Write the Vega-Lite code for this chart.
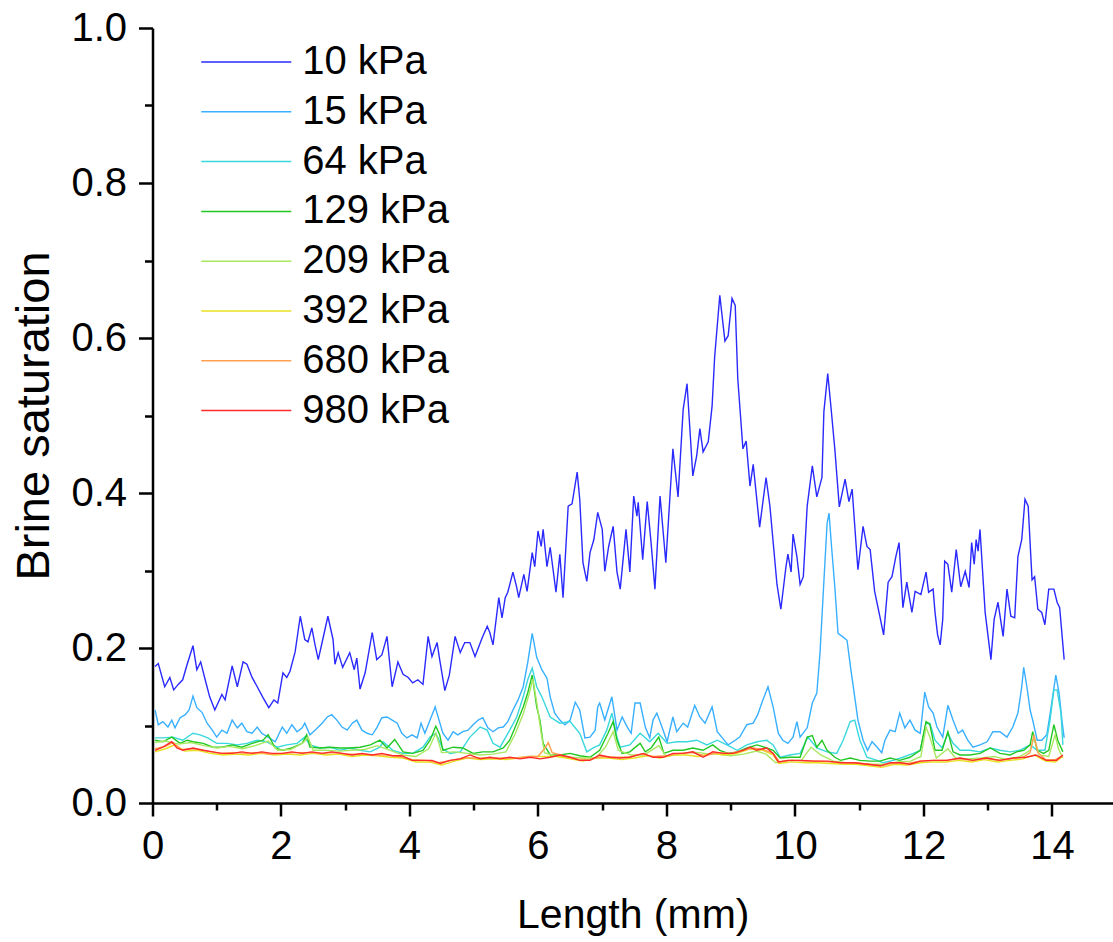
{
"$schema": "https://vega.github.io/schema/vega-lite/v6.json",
"autosize": {"type": "none"},
"padding": {"left": 152.5, "top": 28, "right": 0, "bottom": 139},
"width": 960.5,
"height": 775,
"background": "white",
"config": {"view": {"stroke": null}, "font": "Liberation Sans"},
"datasets": {
"d10": [
{"x":0.04,"y":0.176},{"x":0.09,"y":0.180},{"x":0.19,"y":0.150},{"x":0.27,"y":0.162},{"x":0.33,"y":0.146},{"x":0.40,"y":0.153},{"x":0.47,"y":0.159},{"x":0.54,"y":0.179},{"x":0.63,"y":0.203},{"x":0.69,"y":0.172},{"x":0.75,"y":0.182},{"x":0.82,"y":0.159},{"x":0.89,"y":0.137},{"x":0.97,"y":0.120},{"x":1.08,"y":0.140},{"x":1.13,"y":0.133},{"x":1.24,"y":0.177},{"x":1.32,"y":0.150},{"x":1.41,"y":0.182},{"x":1.47,"y":0.179},{"x":1.55,"y":0.162},{"x":1.63,"y":0.150},{"x":1.72,"y":0.136},{"x":1.81,"y":0.123},{"x":1.89,"y":0.133},{"x":1.95,"y":0.129},{"x":2.03,"y":0.168},{"x":2.09,"y":0.162},{"x":2.14,"y":0.170},{"x":2.22,"y":0.195},{"x":2.30,"y":0.241},{"x":2.37,"y":0.211},{"x":2.42,"y":0.208},{"x":2.48,"y":0.226},{"x":2.53,"y":0.204},{"x":2.58,"y":0.185},{"x":2.65,"y":0.211},{"x":2.73,"y":0.241},{"x":2.81,"y":0.211},{"x":2.84,"y":0.179},{"x":2.89,"y":0.194},{"x":2.96,"y":0.175},{"x":3.07,"y":0.194},{"x":3.14,"y":0.172},{"x":3.18,"y":0.187},{"x":3.23,"y":0.147},{"x":3.31,"y":0.168},{"x":3.42,"y":0.220},{"x":3.49,"y":0.185},{"x":3.57,"y":0.191},{"x":3.65,"y":0.215},{"x":3.73,"y":0.150},{"x":3.82,"y":0.182},{"x":3.90,"y":0.166},{"x":3.98,"y":0.162},{"x":4.05,"y":0.155},{"x":4.13,"y":0.159},{"x":4.21,"y":0.153},{"x":4.29,"y":0.215},{"x":4.35,"y":0.189},{"x":4.43,"y":0.207},{"x":4.47,"y":0.185},{"x":4.55,"y":0.145},{"x":4.62,"y":0.165},{"x":4.71,"y":0.215},{"x":4.79,"y":0.194},{"x":4.86,"y":0.207},{"x":4.94,"y":0.207},{"x":5.02,"y":0.189},{"x":5.13,"y":0.213},{"x":5.21,"y":0.228},{"x":5.25,"y":0.220},{"x":5.30,"y":0.204},{"x":5.39,"y":0.265},{"x":5.44,"y":0.239},{"x":5.49,"y":0.265},{"x":5.53,"y":0.272},{"x":5.61,"y":0.298},{"x":5.67,"y":0.278},{"x":5.70,"y":0.265},{"x":5.78,"y":0.295},{"x":5.83,"y":0.273},{"x":5.91,"y":0.323},{"x":5.95,"y":0.305},{"x":6.00,"y":0.351},{"x":6.05,"y":0.331},{"x":6.08,"y":0.353},{"x":6.14,"y":0.305},{"x":6.19,"y":0.330},{"x":6.28,"y":0.272},{"x":6.34,"y":0.321},{"x":6.39,"y":0.265},{"x":6.47,"y":0.383},{"x":6.53,"y":0.386},{"x":6.61,"y":0.427},{"x":6.65,"y":0.392},{"x":6.70,"y":0.310},{"x":6.76,"y":0.286},{"x":6.81,"y":0.323},{"x":6.87,"y":0.340},{"x":6.93,"y":0.375},{"x":7.00,"y":0.353},{"x":7.04,"y":0.299},{"x":7.10,"y":0.331},{"x":7.17,"y":0.357},{"x":7.23,"y":0.298},{"x":7.28,"y":0.276},{"x":7.37,"y":0.353},{"x":7.43,"y":0.298},{"x":7.49,"y":0.396},{"x":7.54,"y":0.370},{"x":7.56,"y":0.388},{"x":7.63,"y":0.314},{"x":7.70,"y":0.389},{"x":7.76,"y":0.336},{"x":7.82,"y":0.276},{"x":7.90,"y":0.396},{"x":7.99,"y":0.310},{"x":8.10,"y":0.457},{"x":8.18,"y":0.395},{"x":8.26,"y":0.508},{"x":8.32,"y":0.541},{"x":8.41,"y":0.422},{"x":8.47,"y":0.448},{"x":8.52,"y":0.483},{"x":8.57,"y":0.453},{"x":8.65,"y":0.466},{"x":8.71,"y":0.512},{"x":8.75,"y":0.576},{"x":8.83,"y":0.655},{"x":8.91,"y":0.596},{"x":8.96,"y":0.603},{"x":9.02,"y":0.651},{"x":9.07,"y":0.642},{"x":9.11,"y":0.547},{"x":9.19,"y":0.457},{"x":9.24,"y":0.467},{"x":9.30,"y":0.409},{"x":9.35,"y":0.437},{"x":9.45,"y":0.356},{"x":9.55,"y":0.420},{"x":9.61,"y":0.383},{"x":9.72,"y":0.282},{"x":9.78,"y":0.250},{"x":9.86,"y":0.305},{"x":9.89,"y":0.321},{"x":9.94,"y":0.298},{"x":9.97,"y":0.347},{"x":10.03,"y":0.318},{"x":10.08,"y":0.282},{"x":10.13,"y":0.292},{"x":10.19,"y":0.383},{"x":10.27,"y":0.435},{"x":10.34,"y":0.395},{"x":10.42,"y":0.420},{"x":10.45,"y":0.505},{"x":10.51,"y":0.554},{"x":10.56,"y":0.511},{"x":10.62,"y":0.457},{"x":10.69,"y":0.382},{"x":10.78,"y":0.418},{"x":10.84,"y":0.389},{"x":10.89,"y":0.405},{"x":10.96,"y":0.323},{"x":10.98,"y":0.301},{"x":11.06,"y":0.357},{"x":11.12,"y":0.331},{"x":11.17,"y":0.327},{"x":11.24,"y":0.273},{"x":11.32,"y":0.241},{"x":11.38,"y":0.217},{"x":11.45,"y":0.285},{"x":11.51,"y":0.292},{"x":11.57,"y":0.318},{"x":11.62,"y":0.336},{"x":11.68,"y":0.252},{"x":11.74,"y":0.285},{"x":11.82,"y":0.246},{"x":11.87,"y":0.273},{"x":11.96,"y":0.269},{"x":12.04,"y":0.298},{"x":12.08,"y":0.272},{"x":12.15,"y":0.276},{"x":12.18,"y":0.246},{"x":12.22,"y":0.217},{"x":12.26,"y":0.204},{"x":12.30,"y":0.237},{"x":12.33,"y":0.312},{"x":12.38,"y":0.308},{"x":12.44,"y":0.272},{"x":12.51,"y":0.327},{"x":12.58,"y":0.279},{"x":12.65,"y":0.299},{"x":12.71,"y":0.278},{"x":12.75,"y":0.336},{"x":12.79,"y":0.308},{"x":12.82,"y":0.340},{"x":12.85,"y":0.325},{"x":12.88,"y":0.353},{"x":12.96,"y":0.246},{"x":13.05,"y":0.185},{"x":13.10,"y":0.237},{"x":13.16,"y":0.259},{"x":13.24,"y":0.215},{"x":13.30,"y":0.276},{"x":13.36,"y":0.241},{"x":13.42,"y":0.239},{"x":13.47,"y":0.318},{"x":13.53,"y":0.340},{"x":13.58,"y":0.392},{"x":13.63,"y":0.383},{"x":13.69,"y":0.288},{"x":13.73,"y":0.292},{"x":13.78,"y":0.250},{"x":13.84,"y":0.246},{"x":13.89,"y":0.230},{"x":13.95,"y":0.276},{"x":14.03,"y":0.276},{"x":14.08,"y":0.259},{"x":14.12,"y":0.252},{"x":14.19,"y":0.185}
],
"d15": [
{"x":0.04,"y":0.120},{"x":0.09,"y":0.101},{"x":0.16,"y":0.105},{"x":0.24,"y":0.098},{"x":0.30,"y":0.107},{"x":0.35,"y":0.097},{"x":0.43,"y":0.110},{"x":0.51,"y":0.114},{"x":0.57,"y":0.120},{"x":0.63,"y":0.138},{"x":0.69,"y":0.123},{"x":0.77,"y":0.117},{"x":0.85,"y":0.103},{"x":0.93,"y":0.094},{"x":1.00,"y":0.085},{"x":1.08,"y":0.094},{"x":1.16,"y":0.090},{"x":1.24,"y":0.107},{"x":1.32,"y":0.097},{"x":1.39,"y":0.103},{"x":1.47,"y":0.092},{"x":1.55,"y":0.090},{"x":1.63,"y":0.098},{"x":1.70,"y":0.090},{"x":1.80,"y":0.085},{"x":1.91,"y":0.079},{"x":2.02,"y":0.098},{"x":2.09,"y":0.090},{"x":2.17,"y":0.101},{"x":2.25,"y":0.092},{"x":2.33,"y":0.097},{"x":2.37,"y":0.103},{"x":2.45,"y":0.088},{"x":2.53,"y":0.094},{"x":2.64,"y":0.103},{"x":2.72,"y":0.111},{"x":2.79,"y":0.114},{"x":2.87,"y":0.107},{"x":2.95,"y":0.098},{"x":3.03,"y":0.094},{"x":3.11,"y":0.103},{"x":3.18,"y":0.107},{"x":3.26,"y":0.094},{"x":3.34,"y":0.090},{"x":3.42,"y":0.088},{"x":3.49,"y":0.097},{"x":3.57,"y":0.110},{"x":3.65,"y":0.111},{"x":3.73,"y":0.107},{"x":3.81,"y":0.103},{"x":3.88,"y":0.090},{"x":3.96,"y":0.084},{"x":4.04,"y":0.088},{"x":4.12,"y":0.084},{"x":4.18,"y":0.103},{"x":4.24,"y":0.090},{"x":4.32,"y":0.107},{"x":4.40,"y":0.124},{"x":4.46,"y":0.107},{"x":4.52,"y":0.090},{"x":4.60,"y":0.081},{"x":4.68,"y":0.092},{"x":4.75,"y":0.088},{"x":4.83,"y":0.092},{"x":4.91,"y":0.094},{"x":4.99,"y":0.101},{"x":5.07,"y":0.107},{"x":5.14,"y":0.110},{"x":5.22,"y":0.097},{"x":5.30,"y":0.092},{"x":5.38,"y":0.097},{"x":5.46,"y":0.098},{"x":5.53,"y":0.105},{"x":5.61,"y":0.120},{"x":5.69,"y":0.133},{"x":5.77,"y":0.150},{"x":5.84,"y":0.181},{"x":5.91,"y":0.219},{"x":5.98,"y":0.188},{"x":6.06,"y":0.172},{"x":6.14,"y":0.161},{"x":6.19,"y":0.137},{"x":6.26,"y":0.116},{"x":6.34,"y":0.107},{"x":6.42,"y":0.101},{"x":6.50,"y":0.107},{"x":6.58,"y":0.130},{"x":6.65,"y":0.120},{"x":6.73,"y":0.084},{"x":6.81,"y":0.085},{"x":6.89,"y":0.094},{"x":6.93,"y":0.124},{"x":6.96,"y":0.129},{"x":7.04,"y":0.107},{"x":7.15,"y":0.137},{"x":7.23,"y":0.094},{"x":7.31,"y":0.111},{"x":7.39,"y":0.098},{"x":7.45,"y":0.090},{"x":7.51,"y":0.129},{"x":7.59,"y":0.129},{"x":7.67,"y":0.098},{"x":7.74,"y":0.084},{"x":7.79,"y":0.107},{"x":7.85,"y":0.116},{"x":7.93,"y":0.098},{"x":8.01,"y":0.079},{"x":8.10,"y":0.111},{"x":8.16,"y":0.092},{"x":8.26,"y":0.103},{"x":8.33,"y":0.098},{"x":8.44,"y":0.126},{"x":8.52,"y":0.111},{"x":8.60,"y":0.103},{"x":8.71,"y":0.124},{"x":8.79,"y":0.092},{"x":8.86,"y":0.085},{"x":8.96,"y":0.075},{"x":9.07,"y":0.081},{"x":9.14,"y":0.085},{"x":9.25,"y":0.101},{"x":9.35,"y":0.103},{"x":9.42,"y":0.114},{"x":9.50,"y":0.133},{"x":9.58,"y":0.150},{"x":9.66,"y":0.124},{"x":9.74,"y":0.090},{"x":9.81,"y":0.081},{"x":9.89,"y":0.077},{"x":9.97,"y":0.085},{"x":10.03,"y":0.105},{"x":10.08,"y":0.085},{"x":10.19,"y":0.097},{"x":10.27,"y":0.129},{"x":10.34,"y":0.142},{"x":10.39,"y":0.194},{"x":10.44,"y":0.271},{"x":10.50,"y":0.361},{"x":10.53,"y":0.374},{"x":10.57,"y":0.330},{"x":10.62,"y":0.279},{"x":10.67,"y":0.219},{"x":10.75,"y":0.214},{"x":10.81,"y":0.210},{"x":10.87,"y":0.172},{"x":10.93,"y":0.137},{"x":10.98,"y":0.107},{"x":11.06,"y":0.081},{"x":11.13,"y":0.068},{"x":11.20,"y":0.079},{"x":11.28,"y":0.072},{"x":11.35,"y":0.065},{"x":11.40,"y":0.081},{"x":11.48,"y":0.094},{"x":11.56,"y":0.092},{"x":11.63,"y":0.116},{"x":11.71,"y":0.097},{"x":11.79,"y":0.107},{"x":11.87,"y":0.094},{"x":11.95,"y":0.090},{"x":12.02,"y":0.143},{"x":12.08,"y":0.124},{"x":12.15,"y":0.116},{"x":12.21,"y":0.098},{"x":12.30,"y":0.085},{"x":12.38,"y":0.126},{"x":12.46,"y":0.107},{"x":12.54,"y":0.090},{"x":12.61,"y":0.094},{"x":12.69,"y":0.081},{"x":12.77,"y":0.072},{"x":12.88,"y":0.075},{"x":12.99,"y":0.079},{"x":13.08,"y":0.092},{"x":13.19,"y":0.092},{"x":13.30,"y":0.085},{"x":13.39,"y":0.098},{"x":13.47,"y":0.116},{"x":13.53,"y":0.150},{"x":13.56,"y":0.175},{"x":13.61,"y":0.150},{"x":13.66,"y":0.120},{"x":13.70,"y":0.107},{"x":13.77,"y":0.081},{"x":13.84,"y":0.081},{"x":13.92,"y":0.088},{"x":13.98,"y":0.120},{"x":14.01,"y":0.137},{"x":14.06,"y":0.165},{"x":14.11,"y":0.142},{"x":14.16,"y":0.103},{"x":14.19,"y":0.084}
],
"d64": [
{"x":0.04,"y":0.084},{"x":0.16,"y":0.084},{"x":0.32,"y":0.085},{"x":0.47,"y":0.081},{"x":0.63,"y":0.090},{"x":0.74,"y":0.088},{"x":0.86,"y":0.084},{"x":1.00,"y":0.077},{"x":1.16,"y":0.077},{"x":1.32,"y":0.075},{"x":1.47,"y":0.077},{"x":1.63,"y":0.081},{"x":1.78,"y":0.079},{"x":1.94,"y":0.072},{"x":2.09,"y":0.075},{"x":2.25,"y":0.077},{"x":2.37,"y":0.085},{"x":2.45,"y":0.075},{"x":2.61,"y":0.071},{"x":2.76,"y":0.072},{"x":2.92,"y":0.068},{"x":3.07,"y":0.071},{"x":3.23,"y":0.068},{"x":3.39,"y":0.066},{"x":3.54,"y":0.072},{"x":3.59,"y":0.079},{"x":3.74,"y":0.068},{"x":3.90,"y":0.064},{"x":4.05,"y":0.064},{"x":4.21,"y":0.072},{"x":4.32,"y":0.085},{"x":4.41,"y":0.090},{"x":4.52,"y":0.070},{"x":4.63,"y":0.064},{"x":4.79,"y":0.066},{"x":4.94,"y":0.085},{"x":5.10,"y":0.098},{"x":5.21,"y":0.094},{"x":5.30,"y":0.077},{"x":5.41,"y":0.072},{"x":5.56,"y":0.094},{"x":5.67,"y":0.111},{"x":5.77,"y":0.137},{"x":5.84,"y":0.159},{"x":5.91,"y":0.174},{"x":5.98,"y":0.150},{"x":6.06,"y":0.137},{"x":6.19,"y":0.111},{"x":6.34,"y":0.103},{"x":6.50,"y":0.105},{"x":6.65,"y":0.090},{"x":6.76,"y":0.066},{"x":6.86,"y":0.071},{"x":6.96,"y":0.075},{"x":7.07,"y":0.094},{"x":7.15,"y":0.116},{"x":7.23,"y":0.085},{"x":7.28,"y":0.072},{"x":7.43,"y":0.075},{"x":7.59,"y":0.090},{"x":7.74,"y":0.079},{"x":7.87,"y":0.090},{"x":8.01,"y":0.077},{"x":8.16,"y":0.079},{"x":8.32,"y":0.079},{"x":8.47,"y":0.081},{"x":8.63,"y":0.075},{"x":8.79,"y":0.081},{"x":8.94,"y":0.075},{"x":9.10,"y":0.068},{"x":9.25,"y":0.075},{"x":9.41,"y":0.079},{"x":9.56,"y":0.081},{"x":9.66,"y":0.075},{"x":9.77,"y":0.059},{"x":9.92,"y":0.062},{"x":10.08,"y":0.064},{"x":10.20,"y":0.085},{"x":10.34,"y":0.071},{"x":10.50,"y":0.066},{"x":10.65,"y":0.064},{"x":10.75,"y":0.081},{"x":10.86,"y":0.105},{"x":10.93,"y":0.107},{"x":11.01,"y":0.081},{"x":11.12,"y":0.059},{"x":11.28,"y":0.055},{"x":11.37,"y":0.052},{"x":11.53,"y":0.055},{"x":11.68,"y":0.059},{"x":11.84,"y":0.064},{"x":11.95,"y":0.068},{"x":12.04,"y":0.103},{"x":12.10,"y":0.103},{"x":12.18,"y":0.081},{"x":12.29,"y":0.071},{"x":12.38,"y":0.090},{"x":12.46,"y":0.077},{"x":12.57,"y":0.068},{"x":12.72,"y":0.068},{"x":12.88,"y":0.066},{"x":13.04,"y":0.071},{"x":13.19,"y":0.068},{"x":13.35,"y":0.066},{"x":13.50,"y":0.068},{"x":13.66,"y":0.075},{"x":13.77,"y":0.068},{"x":13.89,"y":0.068},{"x":13.97,"y":0.107},{"x":14.03,"y":0.146},{"x":14.08,"y":0.146},{"x":14.14,"y":0.116},{"x":14.17,"y":0.075}
],
"d129": [
{"x":0.04,"y":0.081},{"x":0.16,"y":0.079},{"x":0.30,"y":0.085},{"x":0.43,"y":0.077},{"x":0.54,"y":0.081},{"x":0.63,"y":0.079},{"x":0.79,"y":0.077},{"x":0.94,"y":0.072},{"x":1.08,"y":0.072},{"x":1.24,"y":0.075},{"x":1.39,"y":0.072},{"x":1.55,"y":0.077},{"x":1.72,"y":0.081},{"x":1.80,"y":0.088},{"x":1.91,"y":0.071},{"x":2.03,"y":0.068},{"x":2.17,"y":0.071},{"x":2.33,"y":0.077},{"x":2.40,"y":0.088},{"x":2.45,"y":0.072},{"x":2.61,"y":0.071},{"x":2.76,"y":0.072},{"x":2.92,"y":0.071},{"x":3.07,"y":0.071},{"x":3.23,"y":0.072},{"x":3.39,"y":0.075},{"x":3.54,"y":0.081},{"x":3.65,"y":0.071},{"x":3.77,"y":0.082},{"x":3.90,"y":0.066},{"x":4.05,"y":0.064},{"x":4.21,"y":0.068},{"x":4.32,"y":0.081},{"x":4.41,"y":0.099},{"x":4.47,"y":0.088},{"x":4.52,"y":0.068},{"x":4.68,"y":0.072},{"x":4.83,"y":0.071},{"x":4.99,"y":0.064},{"x":5.14,"y":0.066},{"x":5.30,"y":0.066},{"x":5.46,"y":0.071},{"x":5.56,"y":0.081},{"x":5.67,"y":0.103},{"x":5.77,"y":0.124},{"x":5.84,"y":0.142},{"x":5.91,"y":0.165},{"x":5.98,"y":0.124},{"x":6.03,"y":0.107},{"x":6.08,"y":0.077},{"x":6.19,"y":0.062},{"x":6.34,"y":0.062},{"x":6.50,"y":0.064},{"x":6.65,"y":0.061},{"x":6.81,"y":0.059},{"x":6.96,"y":0.068},{"x":7.09,"y":0.090},{"x":7.17,"y":0.105},{"x":7.23,"y":0.081},{"x":7.31,"y":0.064},{"x":7.43,"y":0.066},{"x":7.56,"y":0.075},{"x":7.59,"y":0.077},{"x":7.67,"y":0.066},{"x":7.76,"y":0.071},{"x":7.88,"y":0.085},{"x":7.96,"y":0.064},{"x":8.10,"y":0.068},{"x":8.26,"y":0.068},{"x":8.41,"y":0.071},{"x":8.57,"y":0.068},{"x":8.72,"y":0.075},{"x":8.83,"y":0.068},{"x":8.96,"y":0.064},{"x":9.10,"y":0.066},{"x":9.25,"y":0.071},{"x":9.41,"y":0.075},{"x":9.56,"y":0.071},{"x":9.66,"y":0.068},{"x":9.77,"y":0.058},{"x":9.92,"y":0.059},{"x":10.08,"y":0.059},{"x":10.19,"y":0.085},{"x":10.27,"y":0.087},{"x":10.34,"y":0.072},{"x":10.42,"y":0.081},{"x":10.50,"y":0.068},{"x":10.62,"y":0.059},{"x":10.71,"y":0.055},{"x":10.86,"y":0.058},{"x":11.01,"y":0.055},{"x":11.17,"y":0.054},{"x":11.32,"y":0.054},{"x":11.48,"y":0.058},{"x":11.63,"y":0.055},{"x":11.79,"y":0.059},{"x":11.95,"y":0.068},{"x":12.04,"y":0.105},{"x":12.10,"y":0.101},{"x":12.18,"y":0.068},{"x":12.29,"y":0.068},{"x":12.38,"y":0.092},{"x":12.46,"y":0.066},{"x":12.57,"y":0.062},{"x":12.72,"y":0.062},{"x":12.88,"y":0.064},{"x":13.04,"y":0.071},{"x":13.19,"y":0.064},{"x":13.35,"y":0.062},{"x":13.45,"y":0.066},{"x":13.56,"y":0.068},{"x":13.66,"y":0.075},{"x":13.70,"y":0.092},{"x":13.77,"y":0.068},{"x":13.87,"y":0.064},{"x":13.95,"y":0.068},{"x":14.03,"y":0.101},{"x":14.09,"y":0.081},{"x":14.17,"y":0.066}
],
"d209": [
{"x":0.04,"y":0.078},{"x":0.20,"y":0.080},{"x":0.40,"y":0.076},{"x":0.60,"y":0.078},{"x":0.80,"y":0.074},{"x":1.00,"y":0.071},{"x":1.20,"y":0.073},{"x":1.40,"y":0.070},{"x":1.60,"y":0.074},{"x":1.80,"y":0.080},{"x":1.95,"y":0.068},{"x":2.15,"y":0.069},{"x":2.35,"y":0.078},{"x":2.42,"y":0.085},{"x":2.50,"y":0.068},{"x":2.70,"y":0.068},{"x":2.90,"y":0.067},{"x":3.10,"y":0.068},{"x":3.30,"y":0.069},{"x":3.50,"y":0.074},{"x":3.70,"y":0.068},{"x":3.90,"y":0.062},{"x":4.10,"y":0.060},{"x":4.30,"y":0.070},{"x":4.41,"y":0.090},{"x":4.50,"y":0.065},{"x":4.70,"y":0.066},{"x":4.90,"y":0.064},{"x":5.10,"y":0.062},{"x":5.30,"y":0.063},{"x":5.50,"y":0.066},{"x":5.65,"y":0.090},{"x":5.77,"y":0.115},{"x":5.86,"y":0.140},{"x":5.92,"y":0.160},{"x":5.98,"y":0.130},{"x":6.05,"y":0.090},{"x":6.10,"y":0.065},{"x":6.30,"y":0.060},{"x":6.50,"y":0.059},{"x":6.70,"y":0.058},{"x":6.90,"y":0.058},{"x":7.05,"y":0.072},{"x":7.17,"y":0.092},{"x":7.25,"y":0.068},{"x":7.45,"y":0.062},{"x":7.65,"y":0.062},{"x":7.88,"y":0.074},{"x":8.00,"y":0.060},{"x":8.20,"y":0.063},{"x":8.40,"y":0.066},{"x":8.60,"y":0.064},{"x":8.80,"y":0.063},{"x":9.00,"y":0.061},{"x":9.20,"y":0.063},{"x":9.40,"y":0.067},{"x":9.55,"y":0.063},{"x":9.70,"y":0.052},{"x":9.90,"y":0.055},{"x":10.10,"y":0.055},{"x":10.25,"y":0.072},{"x":10.40,"y":0.062},{"x":10.60,"y":0.054},{"x":10.80,"y":0.052},{"x":11.00,"y":0.051},{"x":11.20,"y":0.050},{"x":11.40,"y":0.050},{"x":11.60,"y":0.053},{"x":11.80,"y":0.054},{"x":11.96,"y":0.060},{"x":12.04,"y":0.098},{"x":12.10,"y":0.085},{"x":12.20,"y":0.058},{"x":12.38,"y":0.070},{"x":12.50,"y":0.058},{"x":12.70,"y":0.057},{"x":12.90,"y":0.058},{"x":13.10,"y":0.060},{"x":13.30,"y":0.056},{"x":13.50,"y":0.060},{"x":13.66,"y":0.068},{"x":13.72,"y":0.085},{"x":13.80,"y":0.062},{"x":13.95,"y":0.060},{"x":14.05,"y":0.088},{"x":14.10,"y":0.070},{"x":14.17,"y":0.058}
],
"d392": [
{"x":0.04,"y":0.066},{"x":0.20,"y":0.070},{"x":0.35,"y":0.075},{"x":0.50,"y":0.067},{"x":0.70,"y":0.068},{"x":0.90,"y":0.064},{"x":1.10,"y":0.062},{"x":1.30,"y":0.063},{"x":1.50,"y":0.062},{"x":1.70,"y":0.064},{"x":1.90,"y":0.062},{"x":2.10,"y":0.063},{"x":2.30,"y":0.062},{"x":2.50,"y":0.064},{"x":2.70,"y":0.062},{"x":2.90,"y":0.063},{"x":3.10,"y":0.060},{"x":3.30,"y":0.062},{"x":3.50,"y":0.061},{"x":3.70,"y":0.059},{"x":3.90,"y":0.058},{"x":4.10,"y":0.053},{"x":4.30,"y":0.053},{"x":4.50,"y":0.049},{"x":4.70,"y":0.054},{"x":4.90,"y":0.058},{"x":5.10,"y":0.056},{"x":5.30,"y":0.057},{"x":5.50,"y":0.056},{"x":5.70,"y":0.058},{"x":5.90,"y":0.060},{"x":6.10,"y":0.060},{"x":6.30,"y":0.060},{"x":6.50,"y":0.057},{"x":6.70,"y":0.054},{"x":6.90,"y":0.058},{"x":7.10,"y":0.058},{"x":7.30,"y":0.056},{"x":7.50,"y":0.058},{"x":7.70,"y":0.061},{"x":7.90,"y":0.058},{"x":8.10,"y":0.062},{"x":8.30,"y":0.062},{"x":8.50,"y":0.060},{"x":8.70,"y":0.064},{"x":8.90,"y":0.062},{"x":9.10,"y":0.064},{"x":9.30,"y":0.070},{"x":9.50,"y":0.068},{"x":9.66,"y":0.062},{"x":9.75,"y":0.051},{"x":9.95,"y":0.053},{"x":10.15,"y":0.052},{"x":10.35,"y":0.052},{"x":10.55,"y":0.051},{"x":10.75,"y":0.050},{"x":10.95,"y":0.050},{"x":11.15,"y":0.048},{"x":11.35,"y":0.046},{"x":11.55,"y":0.050},{"x":11.75,"y":0.049},{"x":11.95,"y":0.052},{"x":12.15,"y":0.053},{"x":12.35,"y":0.053},{"x":12.55,"y":0.055},{"x":12.75,"y":0.053},{"x":12.95,"y":0.056},{"x":13.15,"y":0.053},{"x":13.35,"y":0.055},{"x":13.55,"y":0.057},{"x":13.72,"y":0.062},{"x":13.90,"y":0.054},{"x":14.05,"y":0.053},{"x":14.17,"y":0.060}
],
"d680": [
{"x":0.04,"y":0.070},{"x":0.20,"y":0.073},{"x":0.32,"y":0.078},{"x":0.45,"y":0.069},{"x":0.65,"y":0.070},{"x":0.85,"y":0.067},{"x":1.05,"y":0.064},{"x":1.25,"y":0.065},{"x":1.45,"y":0.064},{"x":1.65,"y":0.065},{"x":1.85,"y":0.063},{"x":2.05,"y":0.064},{"x":2.25,"y":0.065},{"x":2.45,"y":0.065},{"x":2.65,"y":0.064},{"x":2.85,"y":0.065},{"x":3.05,"y":0.063},{"x":3.25,"y":0.063},{"x":3.45,"y":0.062},{"x":3.65,"y":0.062},{"x":3.85,"y":0.060},{"x":4.05,"y":0.056},{"x":4.25,"y":0.055},{"x":4.45,"y":0.052},{"x":4.65,"y":0.055},{"x":4.85,"y":0.058},{"x":5.05,"y":0.058},{"x":5.25,"y":0.058},{"x":5.45,"y":0.058},{"x":5.65,"y":0.058},{"x":5.85,"y":0.060},{"x":6.00,"y":0.060},{"x":6.10,"y":0.070},{"x":6.16,"y":0.078},{"x":6.22,"y":0.065},{"x":6.40,"y":0.061},{"x":6.60,"y":0.057},{"x":6.80,"y":0.056},{"x":7.00,"y":0.060},{"x":7.20,"y":0.059},{"x":7.40,"y":0.059},{"x":7.60,"y":0.063},{"x":7.80,"y":0.060},{"x":8.00,"y":0.061},{"x":8.20,"y":0.064},{"x":8.40,"y":0.065},{"x":8.60,"y":0.061},{"x":8.80,"y":0.065},{"x":9.00,"y":0.064},{"x":9.20,"y":0.068},{"x":9.35,"y":0.071},{"x":9.50,"y":0.069},{"x":9.66,"y":0.064},{"x":9.76,"y":0.053},{"x":9.95,"y":0.055},{"x":10.15,"y":0.054},{"x":10.35,"y":0.054},{"x":10.55,"y":0.053},{"x":10.75,"y":0.052},{"x":10.95,"y":0.052},{"x":11.15,"y":0.050},{"x":11.35,"y":0.048},{"x":11.55,"y":0.052},{"x":11.75,"y":0.051},{"x":11.95,"y":0.054},{"x":12.15,"y":0.055},{"x":12.35,"y":0.055},{"x":12.55,"y":0.057},{"x":12.75,"y":0.055},{"x":12.95,"y":0.058},{"x":13.15,"y":0.055},{"x":13.35,"y":0.057},{"x":13.55,"y":0.059},{"x":13.66,"y":0.065},{"x":13.72,"y":0.088},{"x":13.78,"y":0.065},{"x":13.90,"y":0.056},{"x":14.05,"y":0.056},{"x":14.17,"y":0.061}
],
"d980": [
{"x":0.04,"y":0.068},{"x":0.16,"y":0.072},{"x":0.30,"y":0.079},{"x":0.38,"y":0.071},{"x":0.47,"y":0.068},{"x":0.63,"y":0.071},{"x":0.79,"y":0.068},{"x":0.94,"y":0.066},{"x":1.08,"y":0.064},{"x":1.24,"y":0.064},{"x":1.39,"y":0.066},{"x":1.55,"y":0.064},{"x":1.70,"y":0.066},{"x":1.86,"y":0.064},{"x":2.02,"y":0.064},{"x":2.17,"y":0.066},{"x":2.33,"y":0.064},{"x":2.48,"y":0.066},{"x":2.64,"y":0.064},{"x":2.79,"y":0.066},{"x":2.95,"y":0.064},{"x":3.11,"y":0.062},{"x":3.26,"y":0.064},{"x":3.42,"y":0.062},{"x":3.57,"y":0.064},{"x":3.73,"y":0.061},{"x":3.88,"y":0.061},{"x":4.04,"y":0.055},{"x":4.20,"y":0.055},{"x":4.35,"y":0.055},{"x":4.48,"y":0.051},{"x":4.63,"y":0.055},{"x":4.79,"y":0.057},{"x":4.94,"y":0.062},{"x":5.10,"y":0.057},{"x":5.25,"y":0.059},{"x":5.41,"y":0.057},{"x":5.56,"y":0.059},{"x":5.72,"y":0.057},{"x":5.88,"y":0.059},{"x":6.03,"y":0.057},{"x":6.19,"y":0.059},{"x":6.34,"y":0.062},{"x":6.50,"y":0.059},{"x":6.65,"y":0.055},{"x":6.81,"y":0.055},{"x":6.96,"y":0.062},{"x":7.12,"y":0.059},{"x":7.28,"y":0.058},{"x":7.43,"y":0.059},{"x":7.64,"y":0.064},{"x":7.79,"y":0.059},{"x":7.95,"y":0.059},{"x":8.10,"y":0.064},{"x":8.26,"y":0.064},{"x":8.41,"y":0.066},{"x":8.57,"y":0.059},{"x":8.72,"y":0.066},{"x":8.88,"y":0.064},{"x":9.04,"y":0.064},{"x":9.19,"y":0.068},{"x":9.30,"y":0.072},{"x":9.40,"y":0.068},{"x":9.56,"y":0.071},{"x":9.66,"y":0.064},{"x":9.74,"y":0.053},{"x":9.89,"y":0.055},{"x":10.10,"y":0.055},{"x":10.31,"y":0.054},{"x":10.51,"y":0.054},{"x":10.71,"y":0.052},{"x":10.92,"y":0.052},{"x":11.13,"y":0.050},{"x":11.33,"y":0.048},{"x":11.48,"y":0.052},{"x":11.64,"y":0.052},{"x":11.79,"y":0.050},{"x":11.95,"y":0.054},{"x":12.15,"y":0.055},{"x":12.36,"y":0.055},{"x":12.57,"y":0.058},{"x":12.77,"y":0.055},{"x":12.98,"y":0.058},{"x":13.19,"y":0.055},{"x":13.39,"y":0.058},{"x":13.60,"y":0.059},{"x":13.75,"y":0.062},{"x":13.91,"y":0.055},{"x":14.07,"y":0.055},{"x":14.17,"y":0.062}
]
},
"layer": [
  {"data": {"name": "d10"}, "transform": [{"calculate": "'10 kPa'", "as": "s"}], "mark": {"type": "line", "strokeWidth": 1.4}, "encoding": {"x": {"field": "x", "type": "quantitative"}, "y": {"field": "y", "type": "quantitative"}, "color": {"field": "s", "type": "nominal"}}},
  {"data": {"name": "d15"}, "transform": [{"calculate": "'15 kPa'", "as": "s"}], "mark": {"type": "line", "strokeWidth": 1.4}, "encoding": {"x": {"field": "x", "type": "quantitative"}, "y": {"field": "y", "type": "quantitative"}, "color": {"field": "s", "type": "nominal"}}},
  {"data": {"name": "d64"}, "transform": [{"calculate": "'64 kPa'", "as": "s"}], "mark": {"type": "line", "strokeWidth": 1.4}, "encoding": {"x": {"field": "x", "type": "quantitative"}, "y": {"field": "y", "type": "quantitative"}, "color": {"field": "s", "type": "nominal"}}},
  {"data": {"name": "d129"}, "transform": [{"calculate": "'129 kPa'", "as": "s"}], "mark": {"type": "line", "strokeWidth": 1.4}, "encoding": {"x": {"field": "x", "type": "quantitative"}, "y": {"field": "y", "type": "quantitative"}, "color": {"field": "s", "type": "nominal"}}},
  {"data": {"name": "d209"}, "transform": [{"calculate": "'209 kPa'", "as": "s"}], "mark": {"type": "line", "strokeWidth": 1.4}, "encoding": {"x": {"field": "x", "type": "quantitative"}, "y": {"field": "y", "type": "quantitative"}, "color": {"field": "s", "type": "nominal"}}},
  {"data": {"name": "d392"}, "transform": [{"calculate": "'392 kPa'", "as": "s"}], "mark": {"type": "line", "strokeWidth": 1.4}, "encoding": {"x": {"field": "x", "type": "quantitative"}, "y": {"field": "y", "type": "quantitative"}, "color": {"field": "s", "type": "nominal"}}},
  {"data": {"name": "d680"}, "transform": [{"calculate": "'680 kPa'", "as": "s"}], "mark": {"type": "line", "strokeWidth": 1.4}, "encoding": {"x": {"field": "x", "type": "quantitative"}, "y": {"field": "y", "type": "quantitative"}, "color": {"field": "s", "type": "nominal"}}},
  {"data": {"name": "d980"}, "transform": [{"calculate": "'980 kPa'", "as": "s"}], "mark": {"type": "line", "strokeWidth": 1.4}, "encoding": {
    "x": {"field": "x", "type": "quantitative", "title": "Length (mm)",
      "scale": {"domain": [0, 14.95], "nice": false, "zero": false},
      "axis": {"values": [0,1,2,3,4,5,6,7,8,9,10,11,12,13,14], "grid": false, "domainColor": "black", "domainWidth": 2.5, "tickColor": "black", "tickWidth": 2.5, "tickSize": 13,
        "labelExpr": "datum.value % 2 === 0 ? format(datum.value, 'd') : ''", "labelFontSize": 40, "labelColor": "black", "labelPadding": 10, "labelOverlap": false, "labelBound": false, "labelFlush": false,
        "titleFontSize": 41, "titleFontWeight": "normal", "titleColor": "black", "titlePadding": 29,
        "encoding": {"ticks": {"y2": {"condition": {"test": "datum.value % 2 === 0", "value": 13}, "value": 7}}}}},
    "y": {"field": "y", "type": "quantitative", "title": "Brine saturation",
      "scale": {"domain": [0, 1], "nice": false},
      "axis": {"values": [0,0.1,0.2,0.3,0.4,0.5,0.6,0.7,0.8,0.9,1.0], "grid": false, "domainColor": "black", "domainWidth": 2.5, "tickColor": "black", "tickWidth": 2.5, "tickSize": 14,
        "labelExpr": "round(datum.value*10) % 2 === 0 ? format(datum.value, '.1f') : ''", "labelFontSize": 40, "labelColor": "black", "labelPadding": 12, "labelOverlap": false, "labelBound": false, "labelFlush": false,
        "titleFontSize": 47, "titleFontWeight": "normal", "titleColor": "black", "titlePadding": 12,
        "encoding": {"ticks": {"x2": {"condition": {"test": "round(datum.value*10) % 2 === 0", "value": -14}, "value": -8}}}}},
    "color": {"field": "s", "type": "nominal",
      "scale": {"domain": ["10 kPa","15 kPa","64 kPa","129 kPa","209 kPa","392 kPa","680 kPa","980 kPa"],
                "range": ["#2a2aff","#38b0ff","#38d8dc","#22c822","#a8e860","#e8e020","#ffa050","#ff2a2a"]},
      "legend": {"orient": "none", "legendX": 43.75, "legendY": 14, "title": null, "symbolType": "M-1,0H5", "symbolSize": 900, "symbolStrokeWidth": 1.5,
        "labelFontSize": 40, "labelColor": "black", "labelOffset": 66, "rowPadding": 9.8, "padding": 0, "labelLimit": 400}}
  }}
]
}
